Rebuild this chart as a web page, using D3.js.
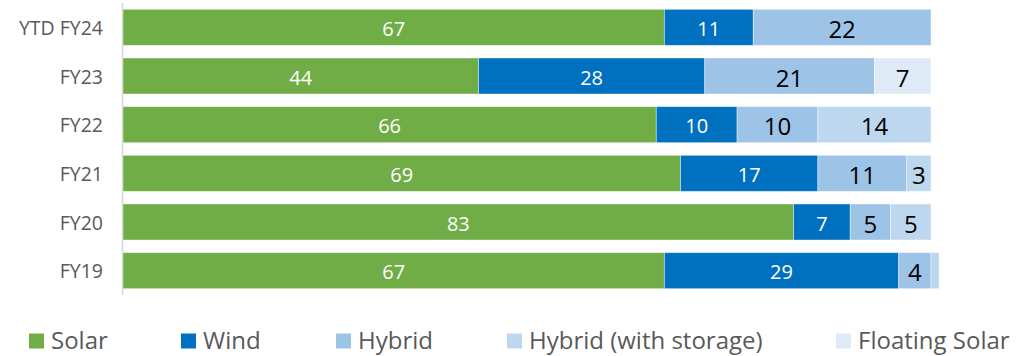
<!DOCTYPE html>
<html>
<head>
<meta charset="utf-8">
<script src="https://cdn.jsdelivr.net/npm/d3@7/dist/d3.min.js"></script>
<style>
  html, body { margin: 0; padding: 0; background: #fff; }
  svg { display: block; }
  text { font-family: "Open Sans", sans-serif; }
</style>
</head>
<body>
<svg id="chart" width="1025" height="356"></svg>
<script>
const categories = ["YTD FY24", "FY23", "FY22", "FY21", "FY20", "FY19"];
const seriesNames = ["Solar", "Wind", "Hybrid", "Hybrid (with storage)", "Floating Solar"];
const solar          = [67, 44, 66, 69, 83, 67];
const wind           = [11, 28, 10, 17, 7, 29];
const hybrid         = [22, 21, 10, 11, 5, 4];
const hybridStorage  = [0, 0, 14, 3, 5, 1];
const floatingSolar  = [0, 7, 0, 0, 0, 0];
const colors = ["#70AD47", "#0070C0", "#9DC3E6", "#BDD7EE", "#DEEBF7"];
const legendX = [29, 181, 336, 507, 836];

const seriesValues = [solar, wind, hybrid, hybridStorage, floatingSolar];
const rows = categories.map((c, i) => {
  const r = { cat: c };
  seriesNames.forEach((s, j) => r[s] = seriesValues[j][i]);
  return r;
});
const stacked = d3.stack().keys(seriesNames)(rows);

const svg = d3.select("#chart");
const x = d3.scaleLinear().domain([0, 100]).range([123, 931]);
const y = d3.scaleBand().domain(categories).range([3, 295]).paddingInner(0.26).paddingOuter(0.13);

// axis line
svg.append("line")
  .attr("x1", 122.5).attr("x2", 122.5)
  .attr("y1", 3).attr("y2", 295)
  .attr("stroke", "#d4d4d4").attr("stroke-width", 1.5);

// category labels
svg.append("g").selectAll("text").data(categories).join("text")
  .attr("x", 103)
  .attr("y", d => y(d) + y.bandwidth() / 2)
  .attr("text-anchor", "end")
  .attr("dominant-baseline", "central")
  .attr("font-size", 19.5)
  .attr("fill", "#595959")
  .text(d => d);

const groups = svg.append("g").selectAll("g").data(stacked).join("g")
  .attr("fill", (d, i) => colors[i]);

groups.selectAll("rect").data(d => d.map(v => ({ v, key: d.key }))).join("rect")
  .attr("x", d => x(d.v[0]))
  .attr("y", d => y(d.v.data.cat))
  .attr("width", d => x(d.v[1]) - x(d.v[0]))
  .attr("height", y.bandwidth())
  .attr("stroke", "#ffffff")
  .attr("stroke-opacity", 0.5)
  .attr("stroke-width", 0.8);

// value labels
stacked.forEach((s, i) => {
  const dark = i < 2;
  svg.append("g").selectAll("text").data(s.filter(d => d[1] - d[0] >= 2)).join("text")
    .attr("x", d => (x(d[0]) + x(d[1])) / 2)
    .attr("y", d => y(d.data.cat) + y.bandwidth() / 2 + 1)
    .attr("text-anchor", "middle")
    .attr("dominant-baseline", "central")
    .attr("font-size", dark ? 20 : 24)
    .attr("fill", dark ? "#ffffff" : "#000000")
    .text(d => d[1] - d[0]);
});

// legend
const lg = svg.append("g").selectAll("g").data(seriesNames).join("g")
  .attr("transform", (d, i) => `translate(${legendX[i]},339.5)`);
lg.append("rect").attr("x", 0).attr("y", -6).attr("width", 15).attr("height", 15)
  .attr("fill", (d, i) => colors[i]);
lg.append("text").attr("x", 22).attr("y", 0)
  .attr("dominant-baseline", "central")
  .attr("font-size", 24)
  .attr("fill", "#595959")
  .text(d => d);
</script>
</body>
</html>
